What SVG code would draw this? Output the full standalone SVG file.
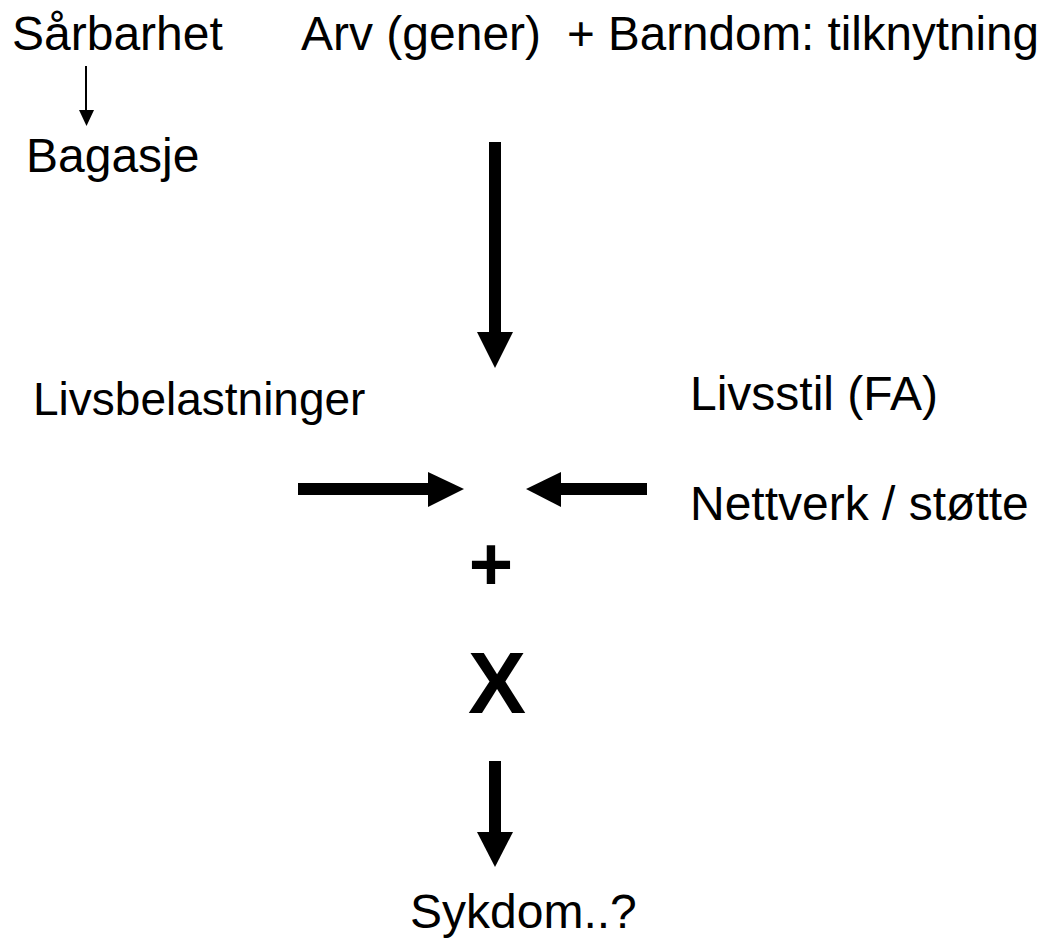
<svg xmlns="http://www.w3.org/2000/svg" width="1047" height="940" viewBox="0 0 1047 940">
<style>
text{font-family:"Liberation Sans",Arial,sans-serif;font-size:48px;fill:#000}
.b{font-weight:bold}
.ar{fill:#000;stroke:none}
</style>
<rect width="1047" height="940" fill="#fff"/>
<g id="sarbarhet"><text x="12" y="50">Sårbarhet</text></g>
<g id="bagasje"><text x="26" y="172">Bagasje</text></g>
<g id="arv"><text x="301" y="50">Arv (gener)</text></g>
<g id="barndom"><text x="567" y="50" textLength="472" lengthAdjust="spacingAndGlyphs">+ Barndom: tilknytning</text></g>
<g id="livsbelastninger"><text x="33" y="415" style="font-size:46px">Livsbelastninger</text></g>
<g id="livsstil"><text x="690" y="410">Livsstil (FA)</text></g>
<g id="nettverk"><text x="690" y="520">Nettverk / støtte</text></g>
<g id="pluss"><text class="b" x="491" y="590" text-anchor="middle" style="font-size:76px">+</text></g>
<g id="x"><text class="b" x="497" y="713" text-anchor="middle" style="font-size:87px">X</text></g>
<g id="sykdom"><text x="410" y="928">Sykdom..?</text></g>
<g id="connectors">
<line x1="86" y1="66" x2="86" y2="112" stroke="#000" stroke-width="2"/>
<polygon class="ar" points="79,110 94,110 86.5,126"/>
<rect class="ar" x="489" y="142" width="12" height="192"/>
<polygon class="ar" points="477,332 513,332 495,368"/>
<rect class="ar" x="298" y="483" width="132" height="12"/>
<polygon class="ar" points="428,472 428,507 464,489"/>
<rect class="ar" x="559" y="483" width="88" height="12"/>
<polygon class="ar" points="561,472 561,507 526,489"/>
<rect class="ar" x="489" y="761" width="12" height="73"/>
<polygon class="ar" points="477,832 513,832 495,867"/>
</g>
</svg>
